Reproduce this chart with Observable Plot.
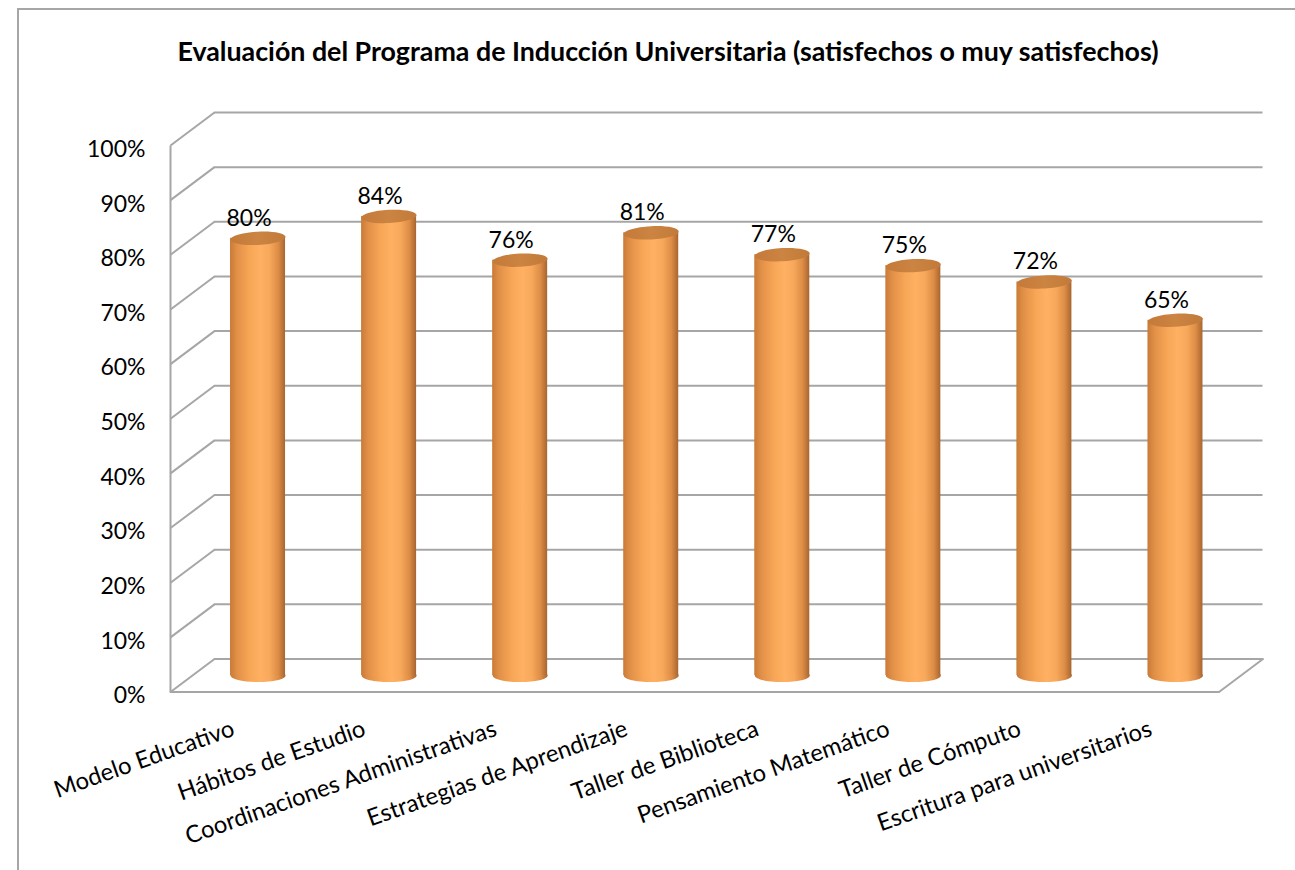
<!DOCTYPE html>
<html>
<head>
<meta charset="utf-8">
<script src="https://cdn.jsdelivr.net/npm/d3@7"></script>
<script src="https://cdn.jsdelivr.net/npm/@observablehq/plot@0.6"></script>
<style>
  html, body { margin: 0; padding: 0; background: white; overflow: hidden; }
  #wrap { position: relative; width: 1295px; height: 870px; }
  #frame { position: absolute; left: 17px; top: 8px; width: 1400px; height: 1000px;
           border: 2px solid #a6a6a6; pointer-events: none; z-index: 2; }
  #title { position: relative; height: 90px; }
  #title span { position: absolute; left: 0; width: 1336px; top: 38px; text-align: center;
                font-family: Lato, "Open Sans", sans-serif; font-weight: bold; font-size: 26.8px;
                line-height: 26.8px; color: #000; white-space: nowrap; }
  #chart svg { display: block; }
</style>
</head>
<body>
<div id="wrap">
  <div id="frame"></div>
  <div id="title"><span>Evaluación del Programa de Inducción Universitaria (satisfechos o muy satisfechos)</span></div>
  <div id="chart"></div>
</div>
<script>
// ---- data ----
const categories = [
  "Modelo Educativo",
  "Hábitos de Estudio",
  "Coordinaciones Administrativas",
  "Estrategias de Aprendizaje",
  "Taller de Biblioteca",
  "Pensamiento Matemático",
  "Taller de Cómputo",
  "Escritura para universitarios"
];
const values = [80, 84, 76, 81, 77, 75, 72, 65];
const yTicks = [0, 10, 20, 30, 40, 50, 60, 70, 80, 90, 100];
const yTickLabels = yTicks.map(d => `${d}%`);

const data = categories.map((category, index) => ({category, index, value: values[index]}));

// ---- 3D projection helpers (depth offsets in data units) ----
const N = categories.length;
const X_RANGE = [192, 1240.5];
const Y_RANGE = [585, 38.5];
const bandPx = (X_RANGE[1] - X_RANGE[0]) / N;
const pxPerPct = (Y_RANGE[0] - Y_RANGE[1]) / 100;
const DXh = 22 / bandPx;      // half depth, x
const DYh = 16.5 / pxPerPct;  // half depth, y
const CW = 27.5 / bandPx;     // cylinder half width
const GRID = "#a6a6a6";

const ellipse = {
  draw(context, size) {
    const rx = Math.sqrt(size / Math.PI);
    const ry = rx * 0.24;
    const k = 0.5522847498;
    context.moveTo(-rx, 0);
    context.bezierCurveTo(-rx, -ry * k, -rx * k, -ry, 0, -ry);
    context.bezierCurveTo(rx * k, -ry, rx, -ry * k, rx, 0);
    context.bezierCurveTo(rx, ry * k, rx * k, ry, 0, ry);
    context.bezierCurveTo(-rx * k, ry, -rx, ry * k, -rx, 0);
    context.closePath();
  }
};

const chart = Plot.plot({
  width: 1295,
  height: 780,
  margin: 0,
  style: {fontFamily: "Lato, 'Open Sans', sans-serif", background: "transparent", color: "black"},
  x: {type: "linear", domain: [0, N], range: X_RANGE, axis: null},
  y: {type: "linear", domain: [0, 100], range: Y_RANGE, axis: null},
  marks: [
    // back wall gridlines
    Plot.ruleY(yTicks, {y: d => d + DYh, x1: () => DXh, x2: () => N + DXh, stroke: GRID, strokeWidth: 2}),
    // left wall diagonals
    Plot.link(yTicks, {x1: () => -DXh, y1: d => d - DYh, x2: () => DXh, y2: d => d + DYh, stroke: GRID, strokeWidth: 2}),
    // front vertical axis
    Plot.link([0], {x1: () => -DXh, y1: () => -DYh, x2: () => -DXh, y2: () => 100 - DYh, stroke: GRID, strokeWidth: 2}),
    // floor front edge + right diagonal
    Plot.line([[-DXh, -DYh], [N - DXh, -DYh], [N + DXh, DYh]], {x: d => d[0], y: d => d[1], stroke: GRID, strokeWidth: 2}),
    // cylinders: bottom cap, body, top cap
    Plot.dot(data, {x: d => d.index + 0.5, y: () => 0, r: 27.5, symbol: ellipse, fill: "url(#cylGrad)"}),
    Plot.rect(data, {x1: d => d.index + 0.5 - CW, x2: d => d.index + 0.5 + CW, y1: () => 0, y2: d => d.value, fill: "url(#cylGrad)"}),
    Plot.dot(data, {x: d => d.index + 0.5, y: d => d.value, r: 27.5, symbol: ellipse, fill: "url(#topGrad)", rotate: -3}),
    // value labels
    Plot.text(data, {x: d => d.index + 0.5, y: d => d.value, text: d => `${d.value}%`, dx: -9, dy: -20, fontSize: 23, fill: "black"}),
    // y tick labels
    Plot.text(yTicks, {x: () => -DXh, y: d => d - DYh, text: (d, i) => yTickLabels[i], textAnchor: "end", dx: -25, dy: 4, fontSize: 23, fill: "black"}),
    // category labels
    Plot.text(data, {x: d => d.index + 0.5 - DXh, y: () => -DYh, text: "category", rotate: -19.5, textAnchor: "end", lineAnchor: "bottom", dy: 43, fontSize: 23.8, fill: "black"})
  ]
});

const defs = d3.select(chart).insert("defs", ":first-child");
const g1 = defs.append("linearGradient").attr("id", "cylGrad").attr("x1", "0").attr("x2", "1").attr("y1", "0").attr("y2", "0");
[[0, "#c97a36"], [0.12, "#e08f47"], [0.35, "#f7a656"], [0.55, "#ffb062"], [0.72, "#f8a85a"], [0.88, "#dc8c45"], [1, "#a86531"]]
  .forEach(([o, c]) => g1.append("stop").attr("offset", o).attr("stop-color", c));
const g2 = defs.append("linearGradient").attr("id", "topGrad").attr("x1", "0").attr("x2", "1").attr("y1", "0").attr("y2", "0");
[[0, "#c47a38"], [0.5, "#cc8442"], [1, "#c27a3a"]]
  .forEach(([o, c]) => g2.append("stop").attr("offset", o).attr("stop-color", c));

document.getElementById("chart").appendChild(chart);
</script>
</body>
</html>
